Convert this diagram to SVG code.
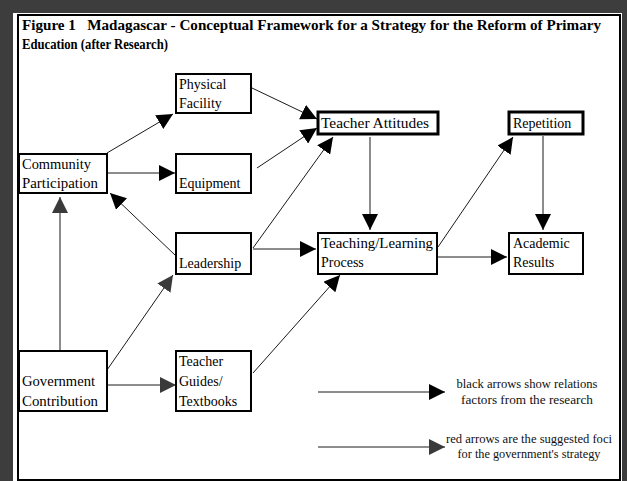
<svg xmlns="http://www.w3.org/2000/svg" width="627" height="481" viewBox="0 0 627 481">
  <style>
    .box { fill: #ffffff; stroke: #000000; stroke-width: 2; }
    .box-heavy { fill: #ffffff; stroke: #000000; stroke-width: 3; }
    .lbl { font-family: "Liberation Serif", "Times New Roman", serif; font-size: 14px; fill: #000000; }
    .title { font-family: "Liberation Serif", "Times New Roman", serif; font-size: 14px; font-weight: bold; fill: #000000; }
    .legend { font-family: "Liberation Serif", "Times New Roman", serif; font-size: 12px; fill: #111111; text-anchor: middle; }
    .link { fill: none; stroke: #1a1a1a; stroke-width: 1; }
    .link-black { marker-end: url(#head-black); }
    .link-red { marker-end: url(#head-red); }
  </style>
  <defs>
    <marker id="head-black" viewBox="0 0 16 16" refX="16" refY="8" markerWidth="16" markerHeight="16" markerUnits="userSpaceOnUse" orient="auto">
      <path d="M0,0 L16,8 L0,16 z" fill="#000000"/>
    </marker>
    <marker id="head-red" viewBox="0 0 16 16" refX="16" refY="8" markerWidth="16" markerHeight="16" markerUnits="userSpaceOnUse" orient="auto">
      <path d="M0,0 L16,8 L0,16 z" fill="#3a3a3a"/>
    </marker>
  </defs>

  <!-- page backing and frame -->
  <rect x="0" y="0" width="627" height="481" fill="#3d3d3d"/>
  <rect x="13" y="13" width="609" height="468" fill="#ffffff"/>
  <rect x="18" y="15" width="602" height="465" fill="none" stroke="#000000" stroke-width="2"/>

  <!-- heading -->
  <g id="title">
    <text class="title" x="22" y="30" textLength="579" lengthAdjust="spacingAndGlyphs" xml:space="preserve">Figure 1   Madagascar - Conceptual Framework for a Strategy for the Reform of Primary</text>
    <text class="title" x="22" y="49" textLength="146" lengthAdjust="spacingAndGlyphs">Education (after Research)</text>
  </g>

  <!-- connectors -->
  <g id="connectors">
    <line class="link link-black" x1="107" y1="153" x2="173" y2="114"/>
    <line class="link link-black" x1="107" y1="173" x2="175" y2="173"/>
    <line class="link link-black" x1="252" y1="88" x2="317" y2="119"/>
    <line class="link link-black" x1="257" y1="168" x2="317" y2="128"/>
    <line class="link link-black" x1="253" y1="248" x2="333" y2="137"/>
    <line class="link link-black" x1="175" y1="255" x2="110" y2="193"/>
    <line class="link link-black" x1="253" y1="249" x2="316" y2="249"/>
    <line class="link link-black" x1="370" y1="137" x2="370" y2="230"/>
    <line class="link link-black" x1="438" y1="247" x2="513" y2="137"/>
    <line class="link link-black" x1="430" y1="257" x2="507" y2="257"/>
    <line class="link link-black" x1="543" y1="136" x2="543" y2="230"/>
    <line class="link link-red" x1="60" y1="351" x2="60" y2="197"/>
    <line class="link link-red" x1="107" y1="370" x2="173" y2="275"/>
    <line class="link link-red" x1="107" y1="385" x2="176" y2="385"/>
    <line class="link link-black" x1="253" y1="373" x2="340" y2="275"/>
    <line class="link link-black" x1="318" y1="392" x2="445" y2="392"/>
    <line class="link link-red" x1="318" y1="447" x2="445" y2="447"/>
  </g>

  <!-- nodes -->
  <g id="physical-facility">
    <rect class="box" x="176" y="74" width="75" height="39"/>
    <text class="lbl" x="179" y="89">Physical</text>
    <text class="lbl" x="179" y="108">Facility</text>
  </g>
  <g id="community-participation">
    <rect class="box" x="19" y="154" width="88" height="39"/>
    <text class="lbl" x="22" y="169" textLength="69" lengthAdjust="spacingAndGlyphs">Community</text>
    <text class="lbl" x="22" y="188" textLength="76" lengthAdjust="spacingAndGlyphs">Participation</text>
  </g>
  <g id="equipment">
    <rect class="box" x="176" y="154" width="75" height="39"/>
    <text class="lbl" x="179" y="188">Equipment</text>
  </g>
  <g id="teacher-attitudes">
    <rect class="box-heavy" x="318" y="112" width="120" height="22"/>
    <text class="lbl" x="321" y="128" textLength="108" lengthAdjust="spacingAndGlyphs">Teacher Attitudes</text>
  </g>
  <g id="repetition">
    <rect class="box-heavy" x="509" y="112" width="74" height="22"/>
    <text class="lbl" x="513" y="128">Repetition</text>
  </g>
  <g id="leadership">
    <rect class="box" x="176" y="233" width="75" height="41"/>
    <text class="lbl" x="179" y="268">Leadership</text>
  </g>
  <g id="teaching-learning-process">
    <rect class="box" x="318" y="233" width="119" height="41"/>
    <text class="lbl" x="321" y="248" textLength="112" lengthAdjust="spacingAndGlyphs">Teaching/Learning</text>
    <text class="lbl" x="321" y="267">Process</text>
  </g>
  <g id="academic-results">
    <rect class="box" x="509" y="233" width="74" height="41"/>
    <text class="lbl" x="513" y="248">Academic</text>
    <text class="lbl" x="513" y="267">Results</text>
  </g>
  <g id="government-contribution">
    <rect class="box" x="19" y="351" width="88" height="60"/>
    <text class="lbl" x="22" y="386" textLength="73" lengthAdjust="spacingAndGlyphs">Government</text>
    <text class="lbl" x="22" y="406" textLength="76" lengthAdjust="spacingAndGlyphs">Contribution</text>
  </g>
  <g id="teacher-guides-textbooks">
    <rect class="box" x="176" y="351" width="75" height="60"/>
    <text class="lbl" x="179" y="366">Teacher</text>
    <text class="lbl" x="179" y="386">Guides/</text>
    <text class="lbl" x="179" y="406">Textbooks</text>
  </g>

  <!-- key -->
  <g id="legend">
    <text class="legend" x="527" y="388" textLength="141" lengthAdjust="spacingAndGlyphs">black arrows show relations</text>
    <text class="legend" x="527" y="404" textLength="132" lengthAdjust="spacingAndGlyphs">factors from the research</text>
    <text class="legend" x="529" y="443" textLength="166" lengthAdjust="spacingAndGlyphs">red arrows are the suggested foci</text>
    <text class="legend" x="529" y="458" textLength="143" lengthAdjust="spacingAndGlyphs">for the government's strategy</text>
  </g>
</svg>
